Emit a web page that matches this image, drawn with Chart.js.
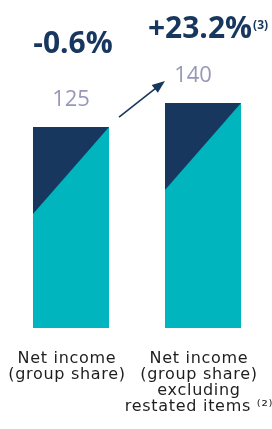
<!DOCTYPE html>
<html>
<head>
<meta charset="utf-8">
<script src="https://cdn.jsdelivr.net/npm/chart.js@4.4.1/dist/chart.umd.min.js"></script>
<style>
  html, body { margin: 0; padding: 0; background: #fff; }
  .chart-container { width: 272px; height: 429px; position: relative; }
</style>
</head>
<body>
<div class="chart-container"><canvas id="chart"></canvas></div>
<script>
const categories = [
  ['Net income', '(group share)'],
  ['Net income', '(group share)', 'excluding', 'restated items \u207D\u00B2\u207E']
];
const values = [125, 140];
const changeLabels = ['-0.6%', '+23.2%'];
const changeNotes = ['', '(3)'];

const NAVY = '#17375e';
const TEAL = '#00b5bd';
const GREY = '#9798b8';

// wider spacing for the axis labels only
const spacing = {
  id: 'spacing',
  beforeDraw(chart) { chart.ctx.letterSpacing = '0.7px'; },
  beforeDatasetsDraw(chart) { chart.ctx.letterSpacing = '0px'; }
};

// navy corner triangle, value labels, change labels and arrow
const decorations = {
  id: 'decorations',
  afterDatasetsDraw(chart) {
    const ctx = chart.ctx;
    const bars = chart.getDatasetMeta(0).data;
    ctx.save();

    bars.forEach((bar, i) => {
      const left = bar.x - bar.width / 2;
      const right = bar.x + bar.width / 2;
      ctx.fillStyle = NAVY;
      ctx.beginPath();
      ctx.moveTo(left, bar.y);
      ctx.lineTo(right, bar.y);
      ctx.lineTo(left, bar.y + bar.width * 1.145);
      ctx.closePath();
      ctx.fill();
    });

    // value labels
    ctx.textAlign = 'center';
    ctx.textBaseline = 'middle';
    ctx.font = '500 22px "Open Sans"';
    ctx.fillStyle = GREY;
    const valueShift = [0, -10];
    bars.forEach((bar, i) => {
      ctx.fillText(String(values[i]), bar.x + valueShift[i], bar.y - 27);
    });

    // change labels
    ctx.fillStyle = NAVY;
    const changeShift = [[2, -83], [-3, -73]];
    bars.forEach((bar, i) => {
      const cx = bar.x + changeShift[i][0];
      const cy = bar.y + changeShift[i][1];
      ctx.textAlign = 'center';
      ctx.font = 'bold 30px "Open Sans"';
      ctx.fillText(changeLabels[i], cx, cy);
      if (changeNotes[i]) {
        const w = ctx.measureText(changeLabels[i]).width;
        ctx.textAlign = 'left';
        ctx.font = 'bold 12px "Open Sans"';
        ctx.fillText(changeNotes[i], cx + w / 2 + 1, cy - 4);
      }
    });

    // arrow from first bar to second
    const a = bars[0], b = bars[1];
    const x0 = a.x + a.width / 2 + 10, y0 = a.y - 10;
    const x1 = b.x - b.width / 2, y1 = b.y - 22;
    const ang = Math.atan2(y1 - y0, x1 - x0);
    ctx.strokeStyle = NAVY;
    ctx.lineWidth = 1.6;
    ctx.beginPath();
    ctx.moveTo(x0, y0);
    ctx.lineTo(x1 - 8 * Math.cos(ang), y1 - 8 * Math.sin(ang));
    ctx.stroke();
    ctx.beginPath();
    ctx.moveTo(x1, y1);
    ctx.lineTo(x1 - 13 * Math.cos(ang) + 5 * Math.sin(ang), y1 - 13 * Math.sin(ang) - 5 * Math.cos(ang));
    ctx.lineTo(x1 - 13 * Math.cos(ang) - 5 * Math.sin(ang), y1 - 13 * Math.sin(ang) + 5 * Math.cos(ang));
    ctx.closePath();
    ctx.fillStyle = NAVY;
    ctx.fill();

    ctx.restore();
  }
};

new Chart(document.getElementById('chart').getContext('2d'), {
  type: 'bar',
  data: {
    labels: categories,
    datasets: [{
      data: values,
      backgroundColor: TEAL,
      borderWidth: 0,
      categoryPercentage: 1,
      barPercentage: 0.576,
    }],
  },
  options: {
    responsive: true,
    maintainAspectRatio: false,
    animation: false,
    layout: { padding: { left: 5, right: 3, top: 0, bottom: 14 } },
    scales: {
      x: {
        grid: { display: false, drawTicks: true, tickLength: 23 },
        border: { display: false },
        ticks: {
          color: '#1e1e1e',
          padding: 0,
          maxRotation: 0,
          autoSkip: false,
          labelOffset: -4,
          font: { family: 'DejaVu Sans', size: 16, lineHeight: 1.0 },
        },
      },
      y: {
        display: false,
        min: 0,
        max: 204,
      },
    },
    plugins: {
      legend: { display: false },
      tooltip: { enabled: false },
    },
  },
  plugins: [spacing, decorations],
});
</script>
</body>
</html>
